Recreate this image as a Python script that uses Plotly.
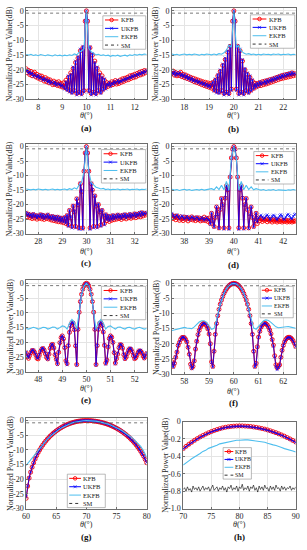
import numpy as np
import plotly.graph_objects as go

W, H = 307, 550
FONT = "Liberation Serif, Times New Roman, serif"

# ------------------------------------------------------------------ data
ticks_db = [0, -5, -10, -15, -20, -25, -30]
ticks_h = [0, -0.2, -0.4, -0.6, -0.8, -1.0]
ticklbl_h = ['0', '-0.2', '-0.4', '-0.6', '-0.8', '-1.0']

# (a) theta 7.5..12.5
theta_a = [7.5, 12.5]
xt_a = [8, 9, 10, 11, 12]
kfb_a = [-19.6, -21.0, -20.2, -21.6, -20.5, -22.0, -21.3, -20.8, -22.4, -21.5,
         -22.8, -21.9, -23.2, -22.1, -22.9, -23.8, -22.6, -24.0, -23.1, -24.4,
         -23.4, -24.1, -25.0, -23.8, -24.9, -24.2, -25.3, -24.0, -25.5, -24.6,
         -25.8, -24.4, -26.0, -23.5, -26.5, -22.5, -27.0, -21.0, -27.5, -19.5,
         -27.0, -17.5, -28.0, -16.0, -27.5, -13.5, -28.0, -12.5, -27.0, -3.5,
         0.0, -3.5, -27.0, -12.5, -28.0, -15.0, -27.5, -17.0, -28.0, -19.5,
         -27.0, -21.0, -27.5, -22.0, -26.5, -23.5, -26.0, -24.3, -25.6, -24.5,
         -25.2, -24.0, -25.0, -24.3, -23.6, -24.8, -23.9, -24.6, -23.4, -24.2,
         -23.0, -23.9, -22.8, -23.5, -22.5, -23.3, -22.0, -22.9, -21.8, -22.6,
         -21.5, -22.4, -21.2, -21.9, -20.8, -21.7, -20.5, -21.4, -20.2, -21.0,
         -20.3]
ukfb_a = [-20.5, -20.0, -21.2, -20.6, -21.5, -21.0, -22.2, -21.6, -22.0, -22.5,
          -21.8, -22.9, -22.3, -23.0, -23.5, -22.8, -23.6, -23.2, -24.2, -23.5,
          -24.6, -23.9, -24.3, -24.8, -24.1, -25.2, -24.5, -25.0, -24.7, -25.6,
          -25.0, -25.8, -26.5, -24.0,
          -27.0, -22.0, -27.5, -21.5, -28.0, -19.0, -27.5, -17.0, -28.5, -15.5,
          -28.0, -13.0, -28.5, -12.0, -27.5, -3.4, 0.0, -3.4, -27.5, -12.2,
          -28.5, -14.5, -28.0, -17.5, -28.5, -19.0, -27.5, -21.5, -28.0, -22.5,
          -27.0, -23.0, -26.5,
          -24.8, -25.3, -24.2, -25.6, -24.5, -24.9, -23.9, -24.6, -24.2, -23.5,
          -24.4, -23.7, -24.0, -23.3, -23.6, -22.9, -23.4, -22.7, -22.9, -22.3,
          -22.7, -21.9, -22.4, -21.7, -22.0, -21.4, -21.8, -21.0, -21.5, -20.7,
          -21.2, -20.4, -20.9, -20.1]
ekfb_a = [-14.8, -15.0, -14.7, -15.1, -14.9, -15.2, -14.8, -15.0, -15.2, -14.9,
          -15.1, -15.3, -14.9, -15.2, -15.0, -15.3, -15.0, -15.2, -14.9, -15.1,
          -14.6, -14.9, -14.0, -13.6, -12.8, 0.0, -12.8, -13.8, -14.3, -14.9,
          -14.7, -15.1, -14.9, -15.2, -15.0, -15.4, -15.1, -15.3, -15.0, -15.4,
          -15.2, -15.0, -15.3, -14.9, -15.1, -14.8, -15.0, -14.7, -14.9, -14.6,
          -14.8]

# (b) theta 17.5..22.5
theta_b = [17.5, 22.5]
xt_b = [18, 19, 20, 21, 22]
kfb_b = [-21.2, -20.4, -21.8, -20.9, -22.0, -21.2, -21.9, -20.8, -22.3, -21.5,
         -22.6, -21.7, -22.9, -22.1, -23.2, -22.5, -23.6, -22.8, -24.0, -23.1,
         -24.3, -23.4, -24.6, -23.7, -25.0, -24.0, -25.3, -24.2, -25.6, -24.4,
         -25.9, -24.6, -26.2, -24.3, -26.8, -23.5, -27.2, -22.0, -27.5, -20.5,
         -27.0, -18.5, -28.0, -16.5, -27.5, -14.0, -28.0, -12.0, -26.5, -3.5,
         0.0, -3.5, -26.5, -12.0, -28.0, -13.5, -27.5, -17.0, -28.0, -20.0,
         -27.0, -21.5, -27.5, -22.5, -26.8, -23.8, -26.2, -24.5, -25.8, -24.6,
         -25.4, -24.3, -25.3, -24.0, -25.0, -23.8, -24.8, -23.6, -24.5, -23.3,
         -24.2, -23.1, -23.9, -22.8, -23.6, -22.5, -23.3, -22.2, -23.0, -21.9,
         -22.8, -21.7, -22.6, -21.5, -22.4, -21.3, -22.2, -21.0, -22.0, -21.2,
         -21.8]
ukfb_b = [-20.8, -21.5, -20.6, -21.9, -21.0, -21.6, -20.9, -22.1, -21.4, -22.3,
          -21.6, -22.8, -22.0, -23.1, -22.4, -23.5, -22.7, -23.8, -23.2, -24.1,
          -23.5, -24.4, -23.8, -24.7, -24.1, -25.0, -24.4, -25.4, -24.7, -25.7,
          -25.0, -26.0, -24.9, -24.0,
          -27.2, -23.0, -27.8, -21.5, -28.0, -20.0, -27.5, -18.0, -28.5, -16.0,
          -28.0, -13.5, -28.5, -11.8, -27.0, -3.4, 0.0, -3.4, -27.0, -11.8,
          -28.5, -13.0, -28.0, -16.5, -28.5, -19.5, -27.5, -21.0, -28.0, -22.0,
          -27.2, -23.3, -26.5,
          -24.8, -25.9, -24.4, -25.5, -24.0, -25.0, -24.2, -24.6, -23.7, -24.7,
          -23.4, -24.3, -23.2, -23.9, -22.9, -23.7, -22.6, -23.3, -22.3, -23.0,
          -22.0, -22.8, -21.7, -22.5, -21.5, -22.2, -21.3, -21.9, -21.0, -21.8,
          -20.8, -21.6, -21.1, -21.5]
ekfb_b = [-14.6, -14.9, -14.7, -15.0, -14.8, -14.6, -14.9, -14.7, -14.9, -14.6,
          -14.8, -15.0, -14.7, -14.9, -14.6, -14.8, -14.9, -14.6, -14.9, -14.5,
          -14.7, -14.2, -13.3, -11.6, -12.4, 0.0, -12.4, -11.8, -13.6, -14.3,
          -14.7, -14.5, -14.8, -14.6, -14.9, -14.7, -14.9, -14.6, -14.8, -14.7,
          -14.9, -14.6, -14.8, -14.6, -14.9, -14.7, -14.8, -14.6, -14.9, -14.7,
          -14.8]

# (c) theta 27.5..32.5
theta_c = [27.5, 32.5]
xt_c = [28, 29, 30, 31, 32]
kfb_c = [-23.0, -24.2, -23.3, -24.5, -23.6, -24.8, -23.4, -24.6, -23.8, -25.0,
         -23.9, -24.7, -23.5, -24.9, -23.7, -25.1, -24.0, -24.8, -23.6, -25.0,
         -24.2, -25.3, -24.1, -25.5, -24.4, -25.7, -24.3, -25.9, -24.6, -26.0,
         -24.8, -26.2, -24.5, -26.5, -23.8, -27.0, -22.0, -24.5, -27.5, -20.5,
         -22.5, -27.5, -18.0, -20.0, -28.0, -12.8, -15.5, -28.0, -8.5, -2.2,
         0.0, -2.2, -8.5, -28.0, -12.8, -15.0, -27.5, -17.0, -20.5, -27.5,
         -20.0, -22.5, -27.0, -22.0, -24.0, -26.5, -23.5, -25.5, -24.0, -25.8,
         -24.2, -25.4, -23.8, -25.2, -24.0, -25.0, -23.6, -24.8, -23.9, -25.1,
         -23.7, -24.6, -23.5, -24.9, -23.8, -24.5, -23.4, -24.7, -23.6, -24.3,
         -23.2, -24.5, -23.4, -24.1, -23.0, -24.2, -22.8, -23.9, -23.1, -23.6,
         -22.9]
ukfb_c = [-22.6, -23.8, -23.0, -24.0, -23.3, -24.4, -23.1, -24.2, -23.5, -24.6,
          -23.6, -24.3, -23.2, -24.5, -23.4, -24.8, -23.7, -24.5, -23.3, -24.7,
          -23.9, -25.0, -23.8, -25.2, -24.1, -25.4, -24.0, -25.6, -24.3, -25.8,
          -24.5, -26.0, -24.2, -26.4,
          -23.5, -27.5, -21.8, -24.2, -28.0, -20.2, -22.2, -28.0, -17.8, -19.8,
          -28.5, -12.6, -15.3, -28.5, -8.4, -2.2, 0.0, -2.2, -8.4, -28.5,
          -12.6, -14.8, -28.0, -16.8, -20.2, -28.0, -19.7, -22.2, -27.5, -21.7,
          -23.7, -27.0, -23.2,
          -25.2, -23.7, -25.5, -23.9, -25.1, -23.5, -24.9, -23.7, -24.7, -23.3,
          -24.5, -23.6, -24.8, -23.4, -24.3, -23.2, -24.6, -23.5, -24.2, -23.1,
          -24.4, -23.3, -24.0, -22.9, -24.2, -23.1, -23.8, -22.7, -23.9, -22.5,
          -23.6, -22.8, -23.3, -22.6]
ekfb_c = [-14.6, -14.8, -14.9, -14.7, -14.9, -14.6, -14.8, -14.9, -14.7, -14.9,
          -14.8, -14.6, -14.9, -14.7, -14.9, -14.8, -14.6, -14.9, -14.5, -14.8,
          -14.2, -14.6, -13.2, -12.4, -8.6, 0.0, -8.6, -12.4, -13.3, -14.0,
          -14.3, -14.6, -14.4, -14.8, -14.6, -14.9, -14.7, -14.8, -14.6, -14.9,
          -14.7, -14.8, -14.6, -14.9, -14.7, -14.8, -14.6, -14.9, -14.7, -14.8,
          -14.6]

# (d) theta 37.5..42.5
theta_d = [37.5, 42.5]
xt_d = [38, 39, 40, 41, 42]
kfb_d = [-23.6, -24.8, -24.0, -25.2, -23.9, -24.6, -25.4, -24.2, -24.9, -25.5,
         -24.3, -25.0, -24.4, -25.6, -24.6, -25.1, -24.2, -25.3, -24.7, -25.5,
         -24.5, -25.2, -24.6, -25.6, -24.8, -25.4, -24.3, -25.5, -24.7, -25.8,
         -24.6,
         -26.5, -23.0, -25.5, -27.5, -24.4, -20.8, -23.2, -28.0, -21.7, -17.9,
         -20.0, -28.0, -17.8, -13.5, -14.9, -28.0, -10.5, -3.9, -0.9, 0.0,
         -0.9, -3.9, -10.5, -28.0, -14.9, -13.5, -17.8, -28.0, -20.0, -17.9,
         -21.7, -28.0, -23.2, -20.8, -24.4, -27.5, -25.5, -23.0, -26.5,
         -24.6, -25.5, -24.8, -25.8, -25.0, -25.4, -24.9, -25.9, -25.2, -25.6,
         -25.0, -26.0, -25.3, -25.7, -25.1, -26.0, -25.4, -25.8, -25.2, -26.0,
         -25.5, -25.8, -25.3, -26.0, -25.5, -25.9, -25.4, -26.0, -25.6, -25.8,
         -25.5]
ukfb_d = [-23.0, -23.8, -24.5, -24.0, -23.5, -24.2, -24.9, -24.4, -23.8, -24.3,
          -25.0, -24.5, -24.0, -24.6, -25.2, -24.7, -24.1, -24.5, -25.1, -24.8,
          -24.2, -24.7, -25.3, -24.9, -24.4, -24.8, -25.4, -25.0, -24.5, -25.1,
          -25.3,
          -26.8, -22.8, -25.8, -27.8, -24.2, -20.6, -23.4, -28.3, -21.5, -17.7,
          -20.2, -28.4, -17.6, -13.4, -14.8, -28.5, -10.4, -3.9, -0.9, 0.0,
          -0.9, -3.9, -10.4, -28.5, -14.8, -13.4, -17.6, -28.4, -20.2, -17.7,
          -21.5, -28.3, -23.4, -20.6, -24.2, -27.8, -25.2, -22.8, -26.0,
          -24.5, -24.0, -23.6, -24.2, -25.0, -24.6, -23.8, -23.5, -24.1, -25.2,
          -24.8, -24.0, -23.6, -23.9, -24.8, -25.3, -24.6, -23.8, -23.4, -23.9,
          -24.9, -25.1, -24.3, -23.6, -23.3, -23.8, -24.7, -24.9, -24.0, -23.4,
          -23.2]
ekfb_d = [-14.7, -15.0, -14.8, -15.1, -14.9, -14.7, -15.0, -14.8, -15.1, -14.9,
          -14.8, -15.0, -14.7, -15.0, -14.8, -14.8, -14.5, -14.9, -13.9, -14.8,
          -13.3, -14.9, -12.0, -15.0, -3.9, 0.0, -3.9, -15.0, -12.0, -14.9,
          -13.3, -14.8, -13.9, -14.9, -14.5, -14.8, -15.0, -14.8, -15.1, -14.9,
          -15.0, -14.8, -15.1, -14.9, -15.0, -14.9, -15.1, -14.9, -15.0, -14.8,
          -15.0]

# (e) theta 47.5..52.5
theta_e = [47.5, 52.5]
xt_e = [48, 49, 50, 51, 52]
kfb_e = [-23.6, -24.9, -25.4, -24.4, -23.5, -22.8, -22.8, -23.4, -24.3, -25.4,
         -25.6, -24.4, -23.1, -22.3, -22.1, -22.7, -23.9, -25.1, -25.6, -24.0,
         -22.0, -20.9, -20.7, -21.9, -24.2, -25.7, -27.2, -23.4, -20.1, -18.4,
         -17.8, -18.8, -21.8, -26.2, -27.2, -21.1, -16.6, -14.3, -13.3, -13.5,
         -15.7, -21.2, -27.5, -15.6, -9.8, -6.2, -3.7, -2.0, -0.87, -0.21,
         0.0,
         -0.21, -0.87, -2.0, -3.71, -6.18, -9.78, -15.6, -27.5, -21.1, -15.6,
         -13.6, -13.3, -14.3, -16.5, -21.0, -27.0, -26.0, -21.6, -18.7, -17.8,
         -18.3, -20.0, -23.5, -27.0, -25.5, -24.0, -21.8, -20.8, -20.9, -22.0,
         -24.2, -25.5, -25.0, -23.8, -22.6, -22.2, -22.4, -23.2, -24.5, -25.5,
         -25.2, -24.3, -23.3, -22.9, -23.0, -23.6, -24.6, -25.3, -24.8, -23.8]
ukfb_e = [-23.2, -24.6, -25.2, -24.1, -23.2, -22.5, -22.6, -23.2, -24.1, -25.2,
          -25.4, -24.1, -22.8, -22.0, -21.9, -22.5, -23.7, -24.9, -25.8, -23.7,
          -21.8, -20.7, -20.6, -21.8, -24.0, -25.9, -27.5, -23.2, -20.0, -18.3,
          -17.7, -18.7, -21.7, -26.5, -27.6, -21.0, -16.5, -14.2, -13.2, -13.4,
          -15.6, -21.0, -27.8, -15.5, -9.7, -6.1, -3.7, -2.0, -0.86, -0.2,
          0.0,
          -0.2, -0.86, -2.0, -3.7, -6.15, -9.75, -15.5, -27.8, -21.0, -15.5,
          -13.5, -13.2, -14.2, -16.4, -20.9, -27.4, -26.3, -21.4, -18.6, -17.7,
          -18.2, -19.9, -23.3, -27.3, -25.2, -23.7, -21.6, -20.6, -20.7, -21.8,
          -24.0, -25.7, -24.7, -23.5, -22.3, -21.9, -22.1, -23.0, -24.3, -25.6,
          -24.9, -24.0, -23.0, -22.6, -22.7, -23.3, -24.3, -25.5, -24.5, -23.4]
ekfb_e = [-15.3, -15.5, -15.2, -14.9, -15.1, -15.5, -15.3, -14.9, -15.0, -15.5,
          -15.2, -14.8, -14.9, -15.5, -15.0, -14.4, -14.6, -15.5, -13.5, -12.2,
          -13.2, -15.5, -9.8, -3.7, -0.9, 0.0, -0.9, -3.7, -9.8, -15.5,
          -13.2, -12.2, -13.5, -15.5, -14.6, -14.4, -15.0, -15.5, -14.9, -14.8,
          -15.2, -15.5, -15.0, -14.9, -15.3, -15.5, -15.1, -14.9, -15.2, -15.5,
          -15.3]

# (f) theta 57.5..62.5
theta_f = [57.5, 62.5]
xt_f = [58, 59, 60, 61, 62]
kfb_f = [-26.0, -27.5, -26.5, -24.5, -22.8, -20.6, -19.6, -18.6, -18.0, -17.9,
         -18.0, -18.6, -19.4, -21.2, -23.5, -26.8, -28.0, -27.5, -25.7, -21.8,
         -19.2, -17.0, -15.6, -14.5, -13.8, -13.4, -13.3, -13.5, -14.1, -15.1,
         -16.8, -20.0, -26.0, -27.5, -22.5, -16.9, -13.3, -10.7, -8.61, -6.92,
         -5.53, -4.34, -3.35, -2.51, -1.82, -1.25, -0.78, -0.44, -0.19, -0.05,
         0.0,
         -0.05, -0.19, -0.44, -0.78, -1.25, -1.82, -2.51, -3.35, -4.34, -5.53,
         -6.92, -8.61, -10.7, -13.3, -16.9, -22.5, -27.5, -26.5, -21.0, -17.8,
         -15.9, -14.5, -13.8, -13.35, -13.25, -13.4, -13.8, -14.5, -15.5, -16.7,
         -18.6, -20.5, -24.0, -27.0, -28.0, -27.5, -27.0, -24.5, -22.2, -20.6,
         -19.4, -18.6, -18.1, -17.9, -17.9, -18.1, -18.5, -19.1, -19.9, -20.9]
ukfb_f = [-26.2, -27.8, -26.6, -24.4, -22.7, -20.5, -19.5, -18.5, -17.9, -17.8,
          -17.9, -18.5, -19.3, -21.1, -23.6, -27.0, -28.3, -27.7, -25.8, -21.7,
          -19.1, -16.9, -15.5, -14.4, -13.7, -13.3, -13.2, -13.4, -14.0, -15.0,
          -16.7, -20.1, -26.3, -27.8, -22.6, -16.9, -13.3, -10.7, -8.6, -6.9,
          -5.5, -4.33, -3.34, -2.5, -1.81, -1.24, -0.77, -0.43, -0.18, -0.05,
          0.0,
          -0.05, -0.18, -0.43, -0.77, -1.24, -1.81, -2.5, -3.34, -4.33, -5.5,
          -6.9, -8.6, -10.7, -13.3, -16.9, -22.6, -27.8, -26.8, -21.1, -17.8,
          -15.9, -14.5, -13.8, -13.3, -13.2, -13.4, -13.8, -14.5, -15.5, -16.8,
          -18.8, -20.8, -24.4, -27.6, -28.6, -27.9, -27.2, -24.6, -22.2, -20.6,
          -19.4, -18.6, -18.1, -17.9, -17.9, -18.1, -18.6, -19.2, -20.0, -21.1]
ekfb_f = [-15.6, -15.4, -15.1, -14.8, -14.6, -14.6, -14.8, -15.0, -15.0, -14.4,
          -13.5, -12.8, -12.4, -12.4, -12.9, -14.0, -15.2, -14.9, -12.2, -8.4,
          -5.4, -3.3, -1.8, -0.8, -0.2, 0.0, -0.2, -0.8, -1.8, -3.3,
          -5.4, -8.4, -12.2, -14.8, -15.2, -14.3, -13.2, -12.4, -12.1, -12.3,
          -12.9, -13.7, -14.4, -14.7, -14.6, -14.4, -14.3, -14.3, -14.5, -14.7,
          -14.9]

# (g) theta 60..80
theta_g = [60, 80]
xt_g = [60, 65, 70, 75, 80]
kfb_g = [-26.5, -22.35, -19.6, -17.6, -15.9, -14.4, -13.1, -11.95, -10.9, -10.0,
         -9.15, -8.38, -7.67, -7.01, -6.40, -5.83, -5.30, -4.81, -4.35, -3.92,
         -3.52, -3.15, -2.80, -2.48, -2.18, -1.91, -1.65, -1.41, -1.20, -1.0,
         -0.83, -0.67, -0.53, -0.40, -0.29, -0.20, -0.13, -0.07, -0.03, -0.01,
         0.0,
         -0.01, -0.02, -0.05, -0.10, -0.16, -0.23, -0.31, -0.40, -0.51, -0.63,
         -0.76, -0.91, -1.07, -1.25, -1.44, -1.65, -1.87, -2.11, -2.37, -2.64,
         -2.93, -3.24, -3.57, -3.92, -4.29, -4.69, -5.11, -5.56, -6.04, -6.55,
         -7.09, -7.67, -8.29, -8.96, -9.68, -10.46, -11.3, -12.2, -13.25, -14.38]
ukfb_g = [-26.0, -22.2, -19.5, -17.5, -15.8, -14.3, -13.0, -11.9, -10.85, -9.95,
          -9.1, -8.35, -7.64, -6.98, -6.38, -5.81, -5.28, -4.8, -4.34, -3.91,
          -3.51, -3.14, -2.79, -2.47, -2.17, -1.9, -1.64, -1.4, -1.19, -0.99,
          -0.82, -0.66, -0.52, -0.39, -0.28, -0.19, -0.12, -0.06, -0.02, -0.01,
          0.0,
          -0.01, -0.02, -0.05, -0.09, -0.15, -0.22, -0.3, -0.39, -0.5, -0.62,
          -0.75, -0.9, -1.06, -1.24, -1.43, -1.64, -1.86, -2.1, -2.36, -2.63,
          -2.92, -3.23, -3.56, -3.91, -4.28, -4.68, -5.1, -5.55, -6.03, -6.54,
          -7.08, -7.66, -8.28, -8.95, -9.67, -10.45, -11.3, -12.2, -13.2, -14.3]
ekfb_g = [-15.3, -14.0, -12.7, -11.4, -10.1, -8.8, -7.6, -6.4, -5.4, -4.5,
          -3.7, -3.0, -2.35, -1.8, -1.32, -0.92, -0.6, -0.34, -0.17, -0.07,
          -0.03, -0.04, -0.1, -0.2, -0.36, -0.57, -0.83, -1.13, -1.5, -1.92,
          -2.4, -2.95, -3.55, -4.2, -4.95, -5.75, -6.65, -7.65, -8.8, -10.4,
          -12.5]

# (h) theta 70..90
theta_h = [70, 90]
xt_h = [70, 75, 80, 85, 90]
kfb_h = [-0.31, -0.285, -0.261, -0.238, -0.216, -0.196, -0.177, -0.16, -0.144, -0.129,
         -0.115, -0.103, -0.092, -0.082, -0.073, -0.066, -0.06, -0.056, -0.053, -0.051,
         -0.05, -0.05, -0.052, -0.054, -0.057, -0.062, -0.067, -0.073, -0.08, -0.087,
         -0.096, -0.106, -0.117, -0.128, -0.141, -0.154, -0.168, -0.184, -0.2, -0.217,
         -0.235]
ukfb_h = [-0.314, -0.289, -0.265, -0.242, -0.22, -0.2, -0.181, -0.164, -0.148, -0.133,
          -0.119, -0.107, -0.096, -0.086, -0.077, -0.07, -0.064, -0.06, -0.057, -0.055,
          -0.054, -0.054, -0.056, -0.058, -0.061, -0.066, -0.071, -0.077, -0.084, -0.091,
          -0.1, -0.11, -0.121, -0.132, -0.145, -0.158, -0.172, -0.188, -0.204, -0.221,
          -0.239]
ekfb_h = [-0.50, -0.472, -0.452, -0.428, -0.41, -0.384, -0.367, -0.343, -0.331, -0.308,
          -0.298, -0.28, -0.271, -0.256, -0.249, -0.238, -0.233, -0.223, -0.221, -0.214,
          -0.214, -0.209, -0.211, -0.21, -0.214, -0.214, -0.221, -0.223, -0.233, -0.238,
          -0.249, -0.255, -0.268, -0.276, -0.291, -0.298, -0.311, -0.318, -0.331, -0.338,
          -0.35]
sm_h = [-0.78, -0.76, -0.80, -0.75, -0.79, -0.77, -0.81, -0.74, -0.78, -0.76,
        -0.79, -0.75, -0.80, -0.77, -0.74, -0.79, -0.76, -0.78, -0.75, -0.80,
        -0.76, -0.73, -0.79, -0.77, -0.75, -0.80, -0.76, -0.78, -0.74, -0.79,
        -0.76, -0.81, -0.75, -0.77, -0.73, -0.79, -0.76, -0.78, -0.74, -0.80,
        -0.75, -0.77, -0.72, -0.79, -0.76, -0.78, -0.74, -0.80, -0.75, -0.77,
        -0.73, -0.79, -0.76, -0.81, -0.74, -0.78, -0.75, -0.79, -0.73, -0.77,
        -0.76, -0.80, -0.74, -0.78, -0.75, -0.79, -0.73, -0.77, -0.76, -0.80,
        -0.74, -0.78, -0.75, -0.79, -0.76, -0.77, -0.74, -0.79, -0.76, -0.78,
        -0.75]
sm_flat = [-0.77, -0.77]

series_names = ['KFB', 'UKFB', 'EKFB', 'SM']
captions = ['(a)', '(b)', '(c)', '(d)', '(e)', '(f)', '(g)', '(h)']

# ------------------------------------------------------------------ layout helpers
def X(p):
    return p / W


def Y(p):
    return 1 - p / H


LEFT = (22.7, 146.5)
RIGHT = (172.5, 299.5)

panels = [
    dict(th=theta_a, k=kfb_a, u=ukfb_a, e=ekfb_a, s=sm_flat, xt=xt_a, xb=LEFT, yb=(4, 97),
         leg=(101.5, 12, 145.5, 46, 6.5), ylx=6, xly=113, capy=126.5),
    dict(th=theta_b, k=kfb_b, u=ukfb_b, e=ekfb_b, s=sm_flat, xt=xt_b, xb=RIGHT, yb=(4, 97),
         leg=(253, 11, 298.5, 45, 6.5), ylx=156, xly=113, capy=127),
    dict(th=theta_c, k=kfb_c, u=ukfb_c, e=ekfb_c, s=sm_flat, xt=xt_c, xb=LEFT, yb=(142, 233.5),
         leg=(100, 148, 145.5, 182, 6.5), ylx=6, xly=251.5, capy=263),
    dict(th=theta_d, k=kfb_d, u=ukfb_d, e=ekfb_d, s=sm_flat, xt=xt_d, xb=RIGHT, yb=(142, 233.5),
         leg=(256.5, 150, 298, 183, 6.3), ylx=156, xly=252, capy=265.5),
    dict(th=theta_e, k=kfb_e, u=ukfb_e, e=ekfb_e, s=sm_flat, xt=xt_e, xb=LEFT, yb=(281, 374),
         leg=(100, 287, 145.5, 321, 6.5), ylx=6, xly=390.5, capy=403),
    dict(th=theta_f, k=kfb_f, u=ukfb_f, e=ekfb_f, s=sm_flat, xt=xt_f, xb=RIGHT, yb=(281, 376),
         leg=(263, 287, 297, 319, 6), ylx=156, xly=394, capy=406),
    dict(th=theta_g, k=kfb_g, u=ukfb_g, e=ekfb_g, s=sm_flat, xt=xt_g, xb=LEFT, yb=(420.5, 513),
         leg=(65, 478, 104, 512, 6.5), ylx=6, xly=529, capy=542),
    dict(th=theta_h, k=kfb_h, u=ukfb_h, e=ekfb_h, s=sm_h, xt=xt_h, xb=(184, 299.5), yb=(424.5, 513),
         leg=(225, 451, 254, 483, 6), ylx=165, xly=529, capy=542),
]

C_K, C_U, C_E, C_S = '#ff0000', '#0000ff', '#4dbeee', '#000000'
AX = '#6e6e6e'
GRID = '#e4e4e4'

fig = go.Figure()
shapes, annos = [], []

for n, p in enumerate(panels, start=1):
    sfx = '' if n == 1 else str(n)
    xa, ya = 'x' + sfx, 'y' + sfx
    lo, hi = p['th']
    is_h = (n == 8)

    def xs(vals):
        return np.linspace(lo, hi, len(vals))

    fig.add_trace(go.Scatter(x=xs(p['k']), y=p['k'], xaxis=xa, yaxis=ya, mode='lines+markers',
                             line=dict(color=C_K, width=1.2),
                             marker=dict(symbol='circle-open', size=4, color=C_K, line=dict(width=0.9)),
                             showlegend=False, hoverinfo='skip'))
    fig.add_trace(go.Scatter(x=xs(p['u']), y=p['u'], xaxis=xa, yaxis=ya, mode='lines+markers',
                             line=dict(color=C_U, width=0.8),
                             marker=dict(symbol='x-thin', size=3, color=C_U, line=dict(width=0.6, color=C_U)),
                             showlegend=False, hoverinfo='skip'))
    fig.add_trace(go.Scatter(x=xs(p['e']), y=p['e'], xaxis=xa, yaxis=ya, mode='lines',
                             line=dict(color=C_E, width=1.1),
                             showlegend=False, hoverinfo='skip'))
    fig.add_trace(go.Scatter(x=xs(p['s']), y=p['s'], xaxis=xa, yaxis=ya, mode='lines',
                             line=dict(color=C_S if is_h else '#555555', width=0.6 if is_h else 0.8,
                                       dash='solid' if is_h else 'dot'),
                             showlegend=False, hoverinfo='skip'))

    x0, x1 = p['xb']
    y0, y1 = p['yb']
    common = dict(showline=True, mirror=True, linecolor=AX, linewidth=0.7,
                  ticks='inside', ticklen=2, tickcolor=AX, tickwidth=0.6,
                  showgrid=True, gridcolor=GRID, gridwidth=0.6, zeroline=False,
                  tickfont=dict(family=FONT, size=8, color='#262626'))
    fig.layout['xaxis' + sfx] = dict(domain=[X(x0), X(x1)], anchor=ya, range=[lo, hi],
                                     tickvals=p['xt'], ticktext=[str(v) for v in p['xt']], **common)
    if is_h:
        yrange, tv, tt = [-1, 0], ticks_h, ticklbl_h
    else:
        yrange, tv, tt = [-30, 1], ticks_db, [str(v) for v in ticks_db]
    fig.layout['yaxis' + sfx] = dict(domain=[Y(y1), Y(y0)], anchor=xa, range=yrange,
                                     tickvals=tv, ticktext=tt, **common)

    # axis labels / caption
    annos.append(dict(text='Normalized Power Value(dB)', x=X(p['ylx']), y=Y((y0 + y1) / 2),
                      xref='paper', yref='paper', textangle=-90, showarrow=False, borderpad=0,
                      xanchor='center', yanchor='middle',
                      font=dict(family=FONT, size=8, color='#262626')))
    annos.append(dict(text='<i>θ</i>(°)', x=X((x0 + x1) / 2), y=Y(p['xly']), xref='paper', yref='paper',
                      showarrow=False, xanchor='center', yanchor='middle', borderpad=0,
                      font=dict(family=FONT, size=8, color='#262626')))
    annos.append(dict(text='<b>' + captions[n - 1] + '</b>', x=X((x0 + x1) / 2), y=Y(p['capy']),
                      xref='paper', yref='paper', showarrow=False, xanchor='center', yanchor='middle',
                      borderpad=0, font=dict(family=FONT, size=9, color='#111')))

    # manual legend box
    lx0, ly0, lx1, ly1, fs = p['leg']
    shapes.append(dict(type='rect', xref='paper', yref='paper', x0=X(lx0), x1=X(lx1), y0=Y(ly1), y1=Y(ly0),
                       line=dict(color='#8c8c8c', width=0.6), fillcolor='white', layer='above'))
    lw = lx1 - lx0
    ih = (ly1 - ly0) / 4
    styles = [(C_K, 'solid'), (C_U, 'solid'), (C_E, 'solid'), ('#333333', 'dot')]
    for k, name in enumerate(series_names):
        yc = ly0 + (k + 0.5) * ih
        a, b = lx0 + 0.05 * lw, lx0 + 0.36 * lw
        col, dash = styles[k]
        shapes.append(dict(type='line', xref='paper', yref='paper', x0=X(a), x1=X(b), y0=Y(yc), y1=Y(yc),
                           line=dict(color=col, width=1, dash=dash), layer='above'))
        m = (a + b) / 2
        if k == 0:
            shapes.append(dict(type='circle', xref='paper', yref='paper', x0=X(m - 1.8), x1=X(m + 1.8),
                               y0=Y(yc + 1.8), y1=Y(yc - 1.8), line=dict(color=C_K, width=0.9),
                               layer='above'))
        if k == 1:
            for sgn in (1, -1):
                shapes.append(dict(type='line', xref='paper', yref='paper', x0=X(m - 1.5), x1=X(m + 1.5),
                                   y0=Y(yc - 1.5 * sgn), y1=Y(yc + 1.5 * sgn),
                                   line=dict(color=C_U, width=0.7), layer='above'))
        annos.append(dict(text=name, x=X(lx0 + 0.40 * lw), y=Y(yc), xref='paper', yref='paper',
                          showarrow=False, xanchor='left', yanchor='middle', borderpad=0,
                          font=dict(family=FONT, size=fs, color='#222')))

fig.update_layout(width=W, height=H, autosize=False, margin=dict(l=0, r=0, t=0, b=0),
                  paper_bgcolor='white', plot_bgcolor='white', showlegend=False,
                  shapes=shapes, annotations=annos)

fig.write_html("out.html", config={'displayModeBar': False},
               post_script="document.body.style.margin='0';")
